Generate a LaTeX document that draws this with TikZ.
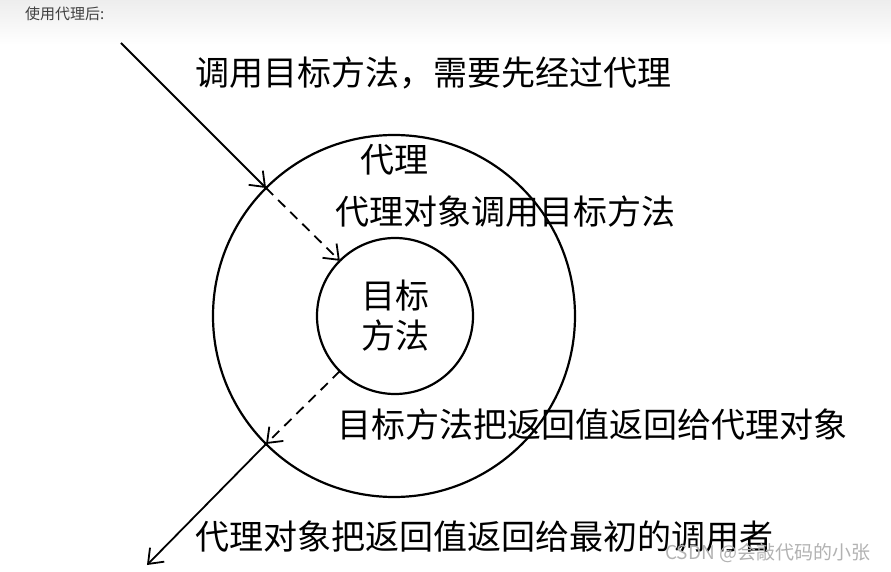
\documentclass[tikz,border=0pt]{standalone}
\usepackage{fontspec}
\setmainfont{Noto Sans CJK SC}
\usetikzlibrary{arrows.meta}

\tikzset{
    label text/.style={anchor=west, inner sep=0pt, font=\fontsize{34}{40}\selectfont},
    ring/.style={circle, draw, line width=2.2pt, outer sep=0pt, inner sep=0pt},
    call/.style={-{Straight Barb[length=13pt,width=20pt,line width=1.8pt]}, line width=1.8pt},
}

\begin{document}
\begin{tikzpicture}[x=1pt,y=1pt]
    \useasboundingbox (-394,-256) rectangle (497,316);

    % Heading band
    \shade[top color=gray!14, bottom color=white] (-394,271) rectangle (497,316);
    \node[anchor=west, inner sep=0pt, font=\fontsize{15}{18}\selectfont, text=black!75] (heading) at (-369,302) {使用代理后:};

    % Proxy (outer) and target method (inner)
    \node[ring, minimum size=362pt] (proxy) at (0,0) {};
    \node[ring, minimum size=156pt, align=center, font=\fontsize{34}{40}\selectfont] (target) at (1,0) {目标\\方法};

    % Caller
    \coordinate (caller) at (-273,273);
    \coordinate (back) at (-247,-249);

    % Calls
    \draw[call] (caller) -- (proxy.135);
    \draw[call, dash pattern=on 10pt off 7pt] (proxy.135) -- (target.135);
    \draw[call, dash pattern=on 10pt off 7pt] (target.225) -- (proxy.225);
    \draw[call] (proxy.225) -- (back);

    % Labels
    \node[label text] (callText) at (-199,243) {调用目标方法，需要先经过代理};
    \node[label text] (proxyText) at (-34,156) {代理};
    \node[label text] (invokeText) at (-59,104) {代理对象调用目标方法};
    \node[label text] (returnText) at (-57,-109) {目标方法把返回值返回给代理对象};
    \node[label text] (finalText) at (-199,-221) {代理对象把返回值返回给最初的调用者};

    % Watermark
    \node[anchor=west, inner sep=0pt, font=\fontsize{19}{22}\selectfont, text=gray!60] (mark) at (271,-237) {CSDN @会敲代码的小张};
\end{tikzpicture}
\end{document}
